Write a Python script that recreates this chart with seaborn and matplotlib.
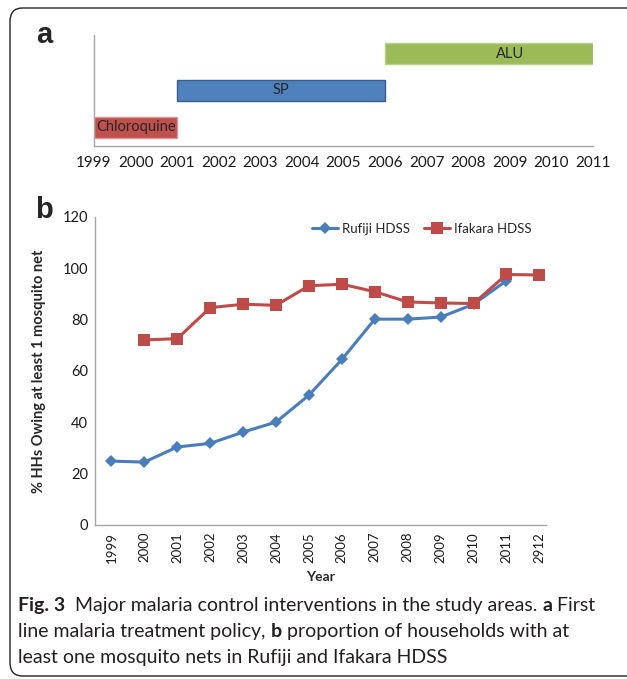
import matplotlib
matplotlib.use("Agg")
import matplotlib.pyplot as plt
from matplotlib.patches import FancyBboxPatch
import numpy as np
import pandas as pd
import seaborn as sns

# panel a: first line treatment policy
drugs = ['Chloroquine', 'SP', 'ALU']
drug_start = [1999, 2001, 2006]
drug_end = [2001, 2006, 2011]
drug_colors = ['#C0504D', '#4F81BD', '#9BBB59']
drug_edges = ['#D99694', '#385D8A', '#B7D08A']
policy_years = list(range(1999, 2012))

# panel b: % households owning at least one net
years = ['1999', '2000', '2001', '2002', '2003', '2004', '2005',
         '2006', '2007', '2008', '2009', '2010', '2011', '2912']
rufiji = [24.9, 24.5, 30.4, 31.8, 36.2, 40.1, 50.6, 64.5, 80.2, 80.2, 81.0, 86.0, 95.2, np.nan]
ifakara = [np.nan, 72.1, 72.6, 84.7, 86.0, 85.6, 93.2, 93.8, 90.9, 86.9, 86.5, 86.3, 97.6, 97.4]

sns.set_theme(style='white')
plt.rcParams['font.family'] = ['Lato', 'DejaVu Sans']

W, H = 627, 679
fig = plt.figure(figsize=(W / 100, H / 100), dpi=100)

# rounded frame around the figure (right edge runs off the image)
frame = FancyBboxPatch((10 / W, 1 - 676 / H), 680 / W, 668 / H,
                       boxstyle='round,pad=0,rounding_size=0.02',
                       transform=fig.transFigure, fill=False,
                       edgecolor='#231F20', linewidth=1.0)
fig.patches.append(frame)

axis_grey = '#A6A6A6'
tick_col = '#1a1a1a'

# ---------- panel a ----------
ax1 = fig.add_axes([94 / W, 1 - 146 / H, 499 / W, 111 / H])
lefts = np.array(drug_start)
widths = np.array(drug_end) - lefts
ax1.barh(range(len(drugs)), widths, left=lefts, height=0.58,
         color=drug_colors, edgecolor=drug_edges, linewidth=1.0)
label_x = [2000, 2003.5, 2009]
for i, d in enumerate(drugs):
    ax1.text(label_x[i], i, d, ha='center', va='center', fontsize=10.5, color='#262626')
ax1.set_xlim(1999, 2011)
ax1.set_ylim(-0.5, 2.5)
ax1.set_xticks(policy_years)
ax1.set_xticklabels([str(y) for y in policy_years], fontsize=11, color=tick_col)
ax1.set_yticks([])
for s in ['top', 'right']:
    ax1.spines[s].set_visible(False)
for s in ['left', 'bottom']:
    ax1.spines[s].set_color(axis_grey)
    ax1.spines[s].set_linewidth(1.0)
ax1.tick_params(axis='x', length=0, pad=7)

# ---------- panel b ----------
ax2 = fig.add_axes([95 / W, 1 - 525 / H, 451 / W, 308 / H])
df = pd.DataFrame({'idx': range(len(years)), 'Rufiji HDSS': rufiji, 'Ifakara HDSS': ifakara})
sns.lineplot(data=df, x='idx', y='Rufiji HDSS', ax=ax2, color='#4A7EBB', linewidth=2.2,
             marker='D', markersize=6.5, markeredgewidth=0, label='Rufiji HDSS')
sns.lineplot(data=df, x='idx', y='Ifakara HDSS', ax=ax2, color='#BE4B48', linewidth=2.2,
             marker='s', markersize=9, markeredgewidth=0, label='Ifakara HDSS')
ax2.set_xlim(-0.5, 13.2)
ax2.set_ylim(0, 120)
ax2.set_yticks(range(0, 121, 20))
ax2.set_yticklabels([str(v) for v in range(0, 121, 20)], fontsize=10.5, color=tick_col)
ax2.set_xticks(range(len(years)))
ax2.set_xticklabels(years, rotation=90, fontsize=9.5, color=tick_col)
ax2.tick_params(axis='both', length=0)
ax2.tick_params(axis='x', pad=5)
ax2.tick_params(axis='y', pad=5)
ax2.set_xlabel('Year', fontsize=10, fontweight='bold', labelpad=6)
ax2.set_ylabel('% HHs Owing at least 1 mosquito net', fontsize=10.5, fontweight='bold', labelpad=12)
for s in ['top', 'right']:
    ax2.spines[s].set_visible(False)
for s in ['left', 'bottom']:
    ax2.spines[s].set_color(axis_grey)
    ax2.spines[s].set_linewidth(1.0)
ax2.legend(loc='center left', bbox_to_anchor=(312 / W, 1 - 229 / H),
           bbox_transform=fig.transFigure, ncol=2, frameon=False, fontsize=9.5,
           handlelength=2.0, handletextpad=0.3, columnspacing=1.0, borderpad=0,
           borderaxespad=0)

# panel letters
fig.text(36 / W, 1 - 43 / H, 'a', fontsize=21, fontweight='bold',
         family='Liberation Sans', ha='left', va='baseline')
fig.text(35 / W, 1 - 218 / H, 'b', fontsize=21, fontweight='bold',
         family='Liberation Sans', ha='left', va='baseline')

# caption with mixed bold pieces, chained left to right
cap_color = '#231F20'
cap_size = 14
cap_lines = [
    [('Fig. 3', 'bold'), ('  Major malaria control interventions in the study areas. ', 'normal'),
     ('a', 'bold'), (' First', 'normal')],
    [('line malaria treatment policy, ', 'normal'), ('b', 'bold'),
     (' proportion of households with at', 'normal')],
    [('least one mosquito nets in Rufiji and Ifakara HDSS', 'normal')],
]
baselines = [611, 637, 663]
for line, yb in zip(cap_lines, baselines):
    prev = None
    for txt, wt in line:
        if prev is None:
            prev = fig.text(18 / W, 1 - yb / H, txt, fontsize=cap_size, fontweight=wt,
                            color=cap_color, ha='left', va='baseline')
        else:
            prev = ax2.annotate(txt, xy=(1, 0), xycoords=prev, fontsize=cap_size,
                                fontweight=wt, color=cap_color, ha='left', va='bottom',
                                annotation_clip=False)

fig.savefig('out.png', dpi=100)
